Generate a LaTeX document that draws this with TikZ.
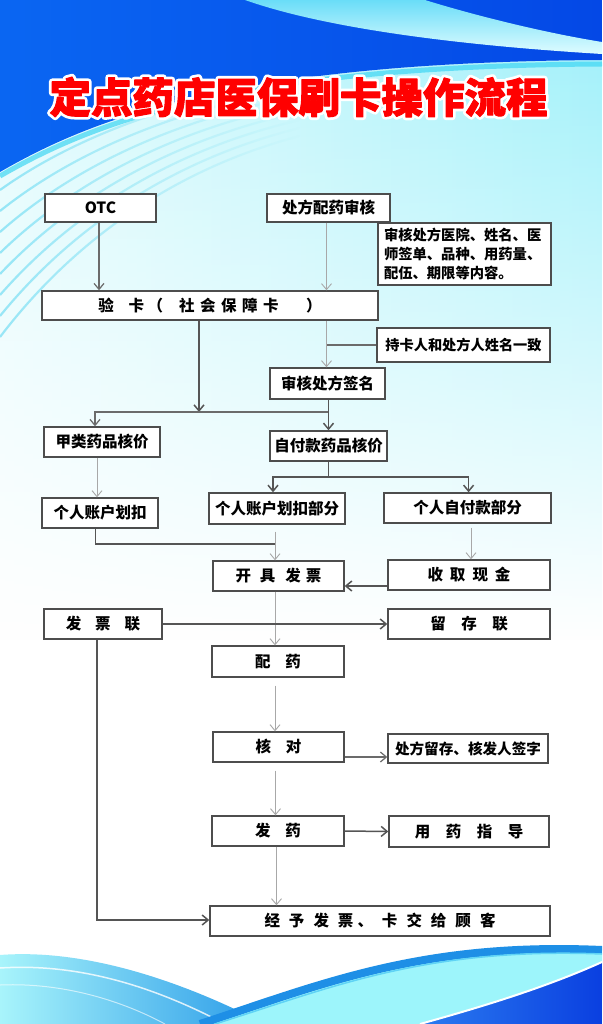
\documentclass[tikz,border=0pt]{standalone}
\usepackage{fontspec}
\setmainfont{Noto Sans CJK SC}
\usetikzlibrary{arrows.meta,calc,fadings}
\definecolor{boxline}{HTML}{4D4D4D}
\definecolor{lineD}{HTML}{555555}
\definecolor{lineM}{HTML}{6B6B6B}
\definecolor{lineL}{HTML}{A8A8A8}
\definecolor{bgBlueL}{HTML}{0A66F2}
\definecolor{bgBlueR}{HTML}{0448E6}
\definecolor{cyanTop}{HTML}{A2F1FA}
\definecolor{cyanPale}{HTML}{E2FBFD}
\definecolor{stripe}{HTML}{5ED8F2}
\definecolor{glow}{HTML}{3FD6F3}
\definecolor{swA}{HTML}{6ADDF8}
\definecolor{swB}{HTML}{DFFCFF}
\definecolor{waveL}{HTML}{A8F4FB}
\definecolor{waveB}{HTML}{2A9BE8}
\definecolor{waveBand}{HTML}{1E8FE6}
\definecolor{waveCyan}{HTML}{9DF5FB}
\definecolor{waveLine}{HTML}{5FD3F5}
\definecolor{deepA}{HTML}{2B7BF0}
\definecolor{deepB}{HTML}{0A3FE0}
\definecolor{titleRed}{HTML}{FF0000}
\tikzfading[name=fadedown, top color=transparent!0, bottom color=transparent!100]
\tikzfading[name=faderight, left color=transparent!0, right color=transparent!100]
\newcommand\strokedtext[2]{\special{pdf:literal direct 2 Tr #1 w 1 j}#2\special{pdf:literal direct 0 Tr}}
\tikzset{
  fbox/.style={draw=boxline, line width=1.4pt, fill=white, inner sep=0pt,
    font=\fontsize{15.5}{18}\selectfont\bfseries, text=black},
  darkln/.style={draw=lineD, line width=1.5pt},
  midln/.style={draw=lineM, line width=1.2pt},
  lightln/.style={draw=lineL, line width=0.9pt},
  arr/.style={-{Straight Barb[length=6pt,width=10pt]}},
  ttl/.style={inner sep=0pt, font=\fontsize{41.5}{42}\selectfont\bfseries},
}
\begin{document}
\begin{tikzpicture}[x=1pt,y=-1pt]
\useasboundingbox (0,0) rectangle (602,1024);
% ---------- background ----------
\fill[white] (0,0) rectangle (602,1024);
\shade[left color=cyanPale, right color=cyanTop, path fading=fadedown] (0,40) rectangle (602,640);
\shade[left color=bgBlueL, right color=bgBlueR] (0,0) -- (602,0) -- (602,60)
  .. controls (230,62) and (90,120) .. (0,172) -- cycle;
\draw[glow, line width=5pt, opacity=0.7] (602,64) .. controls (230,66) and (90,124) .. (0,176);
\shade[top color=swA, bottom color=swB] (245,0) .. controls (330,30) and (470,46) .. (602,54)
  -- (602,42) .. controls (540,32) and (470,14) .. (425,0) -- cycle;
\foreach \i in {0,...,7}
  \draw[stripe, line width=2.2pt, opacity=0.6, path fading=faderight]
    (0,190+21*\i) .. controls (70,140+15*\i) and (170,100+10*\i) .. (300,80+8*\i);
% bottom waves
\shade[left color=waveL, right color=waveB] (0,955) .. controls (90,948) and (190,985) .. (265,1024) -- (0,1024) -- cycle;
\draw[white, line width=1.5pt, opacity=0.8] (0,968) .. controls (90,962) and (170,995) .. (225,1024);
\draw[white, line width=1pt, opacity=0.6] (0,985) .. controls (70,982) and (130,1005) .. (165,1024);
\fill[waveCyan] (200,1024) .. controls (320,985) and (420,942) .. (602,950) -- (602,1024) -- cycle;
\draw[waveBand, line width=8pt] (200,1024) .. controls (320,985) and (420,942) .. (602,950);
\draw[waveLine, line width=1.5pt] (215,1024) .. controls (330,988) and (425,947) .. (602,954);
\shade[left color=deepA, right color=deepB] (602,962) .. controls (540,990) and (470,1010) .. (420,1024) -- (602,1024) -- cycle;
\draw[white, line width=2pt] (602,962) .. controls (540,990) and (470,1010) .. (420,1024);
% ---------- title ----------
\def\ttltext{定点药店医保刷卡操作流程}
\node[ttl, text=white] (tw) at (298.5,97) {\strokedtext{6.5}{\ttltext}};
\node[ttl, text=titleRed] (title) at (298.5,97) {\strokedtext{1.0}{\ttltext}};
% ---------- boxes ----------
\node[fbox, minimum width=111pt, minimum height=28pt] (otc) at (100.5,208) {OTC};
\node[fbox, minimum width=123pt, minimum height=28pt] (rx) at (328.5,208) {处方配药审核};
\node[fbox, minimum width=173pt, minimum height=62pt, align=left, text width=161pt,
  font=\fontsize{14.3}{19}\selectfont\bfseries] (note) at (464.5,254)
  {审核处方医院、姓名、医\\师签单、品种、用药量、\\配伍、期限等内容。};
\node[fbox, minimum width=336pt, minimum height=29pt] (card) at (210,305.5)
  {验\hspace{15pt}卡\hspace{3.5pt}（\hspace{16pt}社\hspace{5.5pt}会\hspace{5.5pt}保\hspace{5.5pt}障\hspace{5.5pt}卡\hspace{27.5pt}）};
\node[fbox, minimum width=173pt, minimum height=34pt, font=\fontsize{14.2}{17}\selectfont\bfseries] (same) at (463.5,345) {持卡人和处方人姓名一致};
\node[fbox, minimum width=115pt, minimum height=31pt] (sign) at (327.5,383.5) {审核处方签名};
\node[fbox, minimum width=116pt, minimum height=30pt] (jia) at (102,442) {甲类药品核价};
\node[fbox, minimum width=117pt, minimum height=30pt] (zifu) at (328.5,446) {自付款药品核价};
\node[fbox, minimum width=116pt, minimum height=30pt] (zhk) at (100,513) {个人账户划扣};
\node[fbox, minimum width=136pt, minimum height=31pt] (zhkb) at (277,508.5) {个人账户划扣部分};
\node[fbox, minimum width=167pt, minimum height=30pt] (zfb) at (467.5,508) {个人自付款部分};
\node[fbox, minimum width=131pt, minimum height=30pt] (inv) at (278.5,576)
  {开\hspace{9pt}具\hspace{10pt}发\hspace{5pt}票\hspace{7pt}};
\node[fbox, minimum width=162pt, minimum height=30pt] (cash) at (469,575)
  {收\hspace{7pt}取\hspace{7pt}现\hspace{7pt}金};
\node[fbox, minimum width=118pt, minimum height=30pt] (fpl) at (103,624)
  {发\hspace{14pt}票\hspace{14pt}联\hspace{14pt}};
\node[fbox, minimum width=162pt, minimum height=30pt] (lcl) at (469,624)
  {留\hspace{15.5pt}存\hspace{15.5pt}联\hspace{6pt}};
\node[fbox, minimum width=132pt, minimum height=31pt] (pei) at (278,661.5)
  {配\hspace{15pt}药\hspace{4pt}};
\node[fbox, minimum width=131pt, minimum height=30pt] (hedui) at (278.5,747)
  {核\hspace{15pt}对\hspace{4pt}};
\node[fbox, minimum width=160pt, minimum height=29pt, font=\fontsize{14.6}{17}\selectfont\bfseries] (liucun) at (468,748.5) {处方留存、核发人签字};
\node[fbox, minimum width=132pt, minimum height=30pt] (fayao) at (278,831)
  {发\hspace{15pt}药\hspace{4pt}};
\node[fbox, minimum width=160pt, minimum height=31pt] (guide) at (469,831.5)
  {用\hspace{15.5pt}药\hspace{15.5pt}指\hspace{15.5pt}导\hspace{5pt}};
\node[fbox, minimum width=340pt, minimum height=30pt] (final) at (380,921)
  {经\hspace{9pt}予\hspace{9pt}发\hspace{9pt}票\hspace{4pt}、\hspace{9pt}卡\hspace{9pt}交\hspace{9pt}给\hspace{9pt}顾\hspace{9pt}客\hspace{17pt}};
% ---------- connectors ----------
\coordinate (cOtc) at (99,0);
\coordinate (cRx) at (326.5,0);
\coordinate (h1) at (199,412);
\coordinate (cS) at (328.5,0);
\coordinate (h2) at (95,412);
\coordinate (cJ) at (97,0);
\coordinate (b0) at (328.6,477);
\coordinate (bL) at (273,477);
\coordinate (bR) at (468.6,477);
\coordinate (m1) at (95.5,544);
\coordinate (m2) at (275,544);
\coordinate (cZ) at (471,0);
\coordinate (cH) at (275.5,0);
\coordinate (cF) at (276.5,0);
\coordinate (f1) at (97,920);
\draw[midln,arr] (otc.south -| cOtc) -- (card.north -| cOtc);
\draw[lightln,arr] (rx.south -| cRx) -- (card.north -| cRx);
\draw[darkln,arr] (card.south -| h1) -- (h1);
\draw[lightln,arr] (card.south -| cRx) -- (sign.north -| cRx);
\draw[midln] (same.west) -- (same.west -| cRx);
\draw[midln,arr] (h1 -| cS) -- (h2) -- (jia.north -| h2);
\draw[darkln,arr] (sign.south -| cS) -- (zifu.north -| cS);
\draw[lightln,arr] (jia.south -| cJ) -- (zhk.north -| cJ);
\draw[darkln] (zifu.south -| b0) -- (b0);
\draw[darkln,arr] (b0) -- (bL) -- (zhkb.north -| bL);
\draw[darkln,arr] (b0) -- (bR) -- (zfb.north -| bR);
\draw[darkln] (zhk.south -| m1) -- (m1) -- (m2);
\draw[lightln,arr] ([yshift=-7pt]zhkb.south -| m2) -- (inv.north -| m2);
\draw[lightln,arr] ([yshift=-4pt]zfb.south -| cZ) -- (cash.north -| cZ);
\draw[darkln,arr] ([yshift=-11pt]cash.west) -- ([yshift=-11pt]cash.west -| inv.east);
\draw[lightln,arr] (inv.south -| m2) -- (pei.north -| m2);
\draw[darkln,arr] (fpl.east) -- (lcl.west);
\draw[lightln,arr] ([yshift=-8pt]pei.south -| m2) -- (hedui.north -| m2);
\draw[midln,arr] ([yshift=-10pt]hedui.east) -- ([yshift=-10pt]hedui.east -| liucun.west);
\draw[lightln,arr] ([yshift=-8pt]hedui.south -| cH) -- (fayao.north -| cH);
\draw[darkln,arr] (fayao.east) -- (guide.west);
\draw[lightln,arr] (fayao.south -| cF) -- (final.north -| cF);
\draw[darkln,arr] (fpl.south -| f1) -- (f1) -- (f1 -| final.west);
\end{tikzpicture}
\end{document}
